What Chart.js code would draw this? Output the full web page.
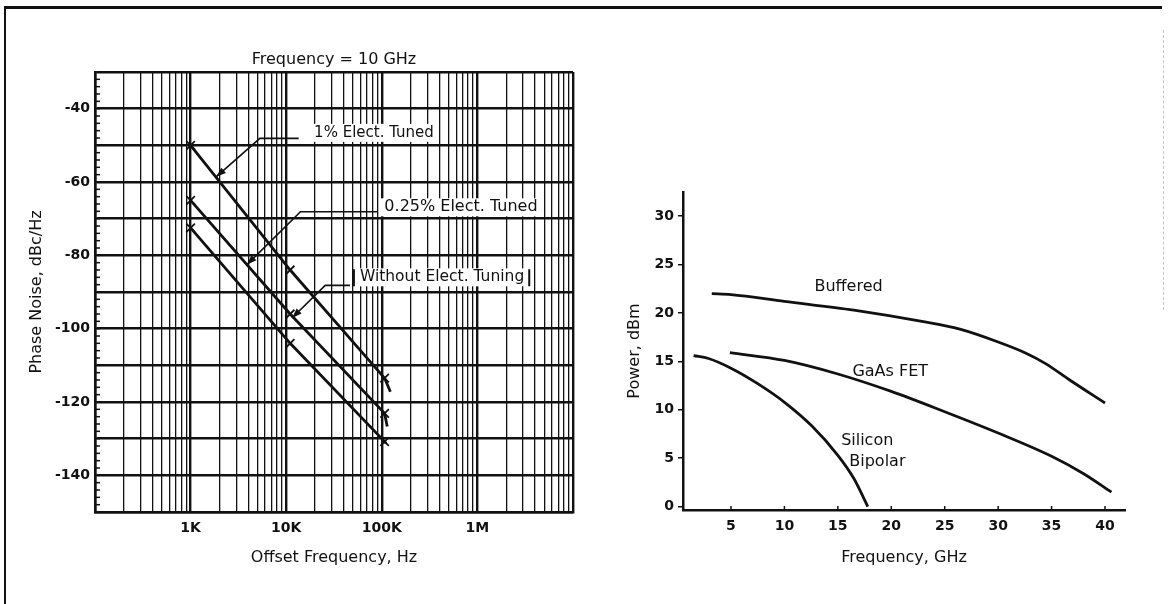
<!DOCTYPE html>
<html>
<head>
<meta charset="utf-8">
<title>Phase noise and output power</title>
<script src="https://cdn.jsdelivr.net/npm/chart.js"></script>
<style>
    body {
        margin: 0;
        background: #fff;
        width: 1168px;
        height: 604px;
        overflow: hidden;
        position: relative;
    }
    .frame {
        position: absolute;
        left: 4px;
        top: 6px;
        width: 1156px;
        height: 598px;
        border-top: 3px solid #111;
        border-left: 2px solid #111;
    }
    .edge {
        position: absolute;
        left: 1163px;
        top: 30px;
        height: 280px;
        border-left: 1px dashed #c4c4c4;
    }
    .box { position: absolute; top: 0; height: 604px; }
    #left-box { left: 0; width: 600px; }
    #right-box { left: 600px; width: 568px; }
</style>
</head>
<body>
<div class="frame"></div>
<div class="edge"></div>
<div class="box" id="left-box"><canvas id="phaseChart"></canvas></div>
<div class="box" id="right-box"><canvas id="powerChart"></canvas></div>

<script>
// ---- left panel: phase noise at 10 GHz ----
const tuned1Freq = [1000, 11000, 107000, 123000];
const tuned1Noise = [-50, -84, -113.5, -117.2];
const tuned025Freq = [1000, 11000, 107000, 114000];
const tuned025Noise = [-65, -96, -123.1, -126.7];
const untunedFreq = [1000, 11000, 107000, 111000];
const untunedNoise = [-72.5, -104, -130.8, -131.3];
const markerCount = 3; // the "x" marks sit on the first three points

const phaseXTickValues = [1e3, 1e4, 1e5, 1e6];
const phaseXTickLabels = ['1K', '10K', '100K', '1M'];
const phaseYTickValues = [-40, -60, -80, -100, -120, -140];
const phaseYTickLabels = ['-40', '-60', '-80', '-100', '-120', '-140'];

const noteTexts = ['1% Elect. Tuned', '0.25% Elect. Tuned', 'Without Elect. Tuning'];
const noteSizes = [15, 16, 15.5];
const noteAt = [[82800, -46.6], [673000, -66.9], [427000, -86.0]];
const noteLeaders = [
    [[13500, -48.1], [5300, -48.1], [1850, -58.6]],
    [[89000, -68.1], [14100, -68.1], [3870, -82.6]],
    [[46500, -88.2], [25600, -88.2], [11500, -97.1]]
];
const boxedNote = 2;

// ---- right panel: output power vs frequency ----
const bufferedGHz = [3.2, 5, 10, 16.5, 23, 26.5, 30, 32.7, 34.4, 36.8, 40];
const bufferedDbm = [22.0, 21.9, 21.2, 20.3, 19.1, 18.3, 17.0, 15.8, 14.8, 13.0, 10.7];
const gaasGHz = [4.9, 10, 15, 20, 25, 30, 35, 38, 40.6];
const gaasDbm = [15.9, 15.1, 13.7, 11.9, 9.8, 7.6, 5.2, 3.4, 1.5];
const siliconGHz = [1.5, 2.9, 5, 7.5, 10.1, 12.6, 15, 16.5, 17.8];
const siliconDbm = [15.6, 15.3, 14.3, 12.7, 10.7, 8.3, 5.3, 2.9, 0];

const powerXTicks = [5, 10, 15, 20, 25, 30, 35, 40];
const powerYTicks = [0, 5, 10, 15, 20, 25, 30];
const curveTexts = ['Buffered', 'GaAs FET', 'Silicon', 'Bipolar'];
const curveTextAt = [[16, 22.75], [19.9, 13.9], [17.75, 6.8], [18.7, 4.65]];

Chart.defaults.font.family = "'DejaVu Sans', sans-serif";
Chart.defaults.color = '#111';
Chart.defaults.animation = false;

const INK = '#111';
const tickFont = { size: 14, weight: 'bold' };
const titleFont = { size: 16 };

function pts(xs, ys) {
    return xs.map((x, i) => ({ x: x, y: ys[i] }));
}

function isDecade(v) {
    const e = Math.log10(v);
    return Math.abs(e - Math.round(e)) < 1e-9;
}

function arrowHead(ctx, from, to, len, half) {
    const a = Math.atan2(to.y - from.y, to.x - from.x);
    const bx = to.x - len * Math.cos(a), by = to.y - len * Math.sin(a);
    ctx.beginPath();
    ctx.moveTo(to.x, to.y);
    ctx.lineTo(bx + half * Math.sin(a), by - half * Math.cos(a));
    ctx.lineTo(bx - half * Math.sin(a), by + half * Math.cos(a));
    ctx.closePath();
    ctx.fill();
}

// title, minor ticks on the left edge and the leader notes
const phaseExtras = {
    id: 'phaseExtras',
    afterDatasetsDraw(chart) {
        const { ctx, chartArea: a, scales: { x, y } } = chart;
        ctx.save();
        ctx.strokeStyle = INK;
        ctx.fillStyle = INK;

        ctx.lineWidth = 1.5;
        for (let v = -150; v <= -30; v += 2) {
            const py = y.getPixelForValue(v);
            ctx.beginPath();
            ctx.moveTo(a.left, py);
            ctx.lineTo(a.left + 5, py);
            ctx.stroke();
        }

        ctx.font = "16px 'DejaVu Sans'";
        ctx.textAlign = 'center';
        ctx.textBaseline = 'middle';
        ctx.fillText('Frequency = 10 GHz', (a.left + a.right) / 2, a.top - 12);

        noteTexts.forEach((txt, i) => {
            const cx = x.getPixelForValue(noteAt[i][0]);
            const cy = y.getPixelForValue(noteAt[i][1]);
            ctx.font = noteSizes[i] + "px 'DejaVu Sans'";
            const w = ctx.measureText(txt).width;
            ctx.fillStyle = '#fff';
            ctx.fillRect(cx - w / 2 - 4, cy - 9, w + 8, 18);

            const p = noteLeaders[i].map(q => ({ x: x.getPixelForValue(q[0]), y: y.getPixelForValue(q[1]) }));
            ctx.fillStyle = INK;
            ctx.lineWidth = 1.6;
            ctx.beginPath();
            ctx.moveTo(p[0].x, p[0].y);
            for (let k = 1; k < p.length; k++) ctx.lineTo(p[k].x, p[k].y);
            ctx.stroke();
            arrowHead(ctx, p[p.length - 2], p[p.length - 1], 10, 3.5);

            if (i === boxedNote) {
                ctx.lineWidth = 2;
                ctx.beginPath();
                ctx.moveTo(cx - w / 2 - 6, cy - 8);
                ctx.lineTo(cx - w / 2 - 6, cy + 9);
                ctx.moveTo(cx + w / 2 + 5, cy - 8);
                ctx.lineTo(cx + w / 2 + 5, cy + 9);
                ctx.stroke();
            }
            ctx.fillText(txt, cx, cy);
        });
        ctx.restore();
    }
};

new Chart(document.getElementById('phaseChart'), {
    type: 'line',
    data: {
        datasets: [
            { label: '1% Elect. Tuned', data: pts(tuned1Freq, tuned1Noise) },
            { label: '0.25% Elect. Tuned', data: pts(tuned025Freq, tuned025Noise) },
            { label: 'Without Elect. Tuning', data: pts(untunedFreq, untunedNoise) }
        ].map(d => Object.assign(d, {
            borderColor: INK,
            borderWidth: 2.8,
            pointStyle: 'crossRot',
            pointRadius: c => c.dataIndex < markerCount ? 6 : 0,
            pointBorderColor: INK,
            pointBorderWidth: 1.8,
            tension: 0
        }))
    },
    options: {
        responsive: true,
        maintainAspectRatio: false,
        layout: { padding: { left: 0, right: 27, top: 72, bottom: 0 } },
        plugins: { legend: { display: false }, tooltip: { enabled: false } },
        scales: {
            x: {
                type: 'logarithmic',
                min: 100,
                max: 1e7,
                afterBuildTicks: scale => {
                    const t = [];
                    for (let d = 100; d < 1e7; d *= 10) {
                        for (let m = 1; m < 10; m++) t.push({ value: d * m });
                    }
                    t.push({ value: 1e7 });
                    scale.ticks = t;
                },
                afterFit: scale => { scale.height = 92; },
                grid: {
                    color: INK,
                    drawTicks: false,
                    lineWidth: c => isDecade(c.tick.value) ? 2.4 : 1.3
                },
                border: { color: INK, width: 2.5 },
                ticks: {
                    autoSkip: false,
                    maxRotation: 0,
                    padding: 8,
                    font: tickFont,
                    color: INK,
                    callback: v => {
                        const i = phaseXTickValues.indexOf(v);
                        return i >= 0 ? phaseXTickLabels[i] : '';
                    }
                },
                title: {
                    display: true,
                    text: 'Offset Frequency, Hz',
                    font: titleFont,
                    color: INK,
                    padding: { top: 0, bottom: 37 }
                }
            },
            y: {
                type: 'linear',
                min: -150,
                max: -30,
                afterBuildTicks: scale => {
                    const t = [];
                    for (let v = -150; v <= -30; v += 10) t.push({ value: v });
                    scale.ticks = t;
                },
                afterFit: scale => { scale.width = 95; },
                grid: { color: INK, drawTicks: false, lineWidth: 2.4 },
                border: { color: INK, width: 2.5 },
                ticks: {
                    padding: 5,
                    font: tickFont,
                    color: INK,
                    callback: v => {
                        const i = phaseYTickValues.indexOf(v);
                        return i >= 0 ? phaseYTickLabels[i] : '';
                    }
                },
                title: {
                    display: true,
                    text: 'Phase Noise, dBc/Hz',
                    font: titleFont,
                    color: INK,
                    padding: { top: 27, bottom: 0 }
                }
            }
        }
    },
    plugins: [phaseExtras]
});

// inward ticks on the frequency axis and the curve names
const powerExtras = {
    id: 'powerExtras',
    afterDatasetsDraw(chart) {
        const { ctx, chartArea: a, scales: { x, y } } = chart;
        ctx.save();
        ctx.strokeStyle = INK;
        ctx.fillStyle = INK;
        ctx.lineWidth = 1.5;
        powerXTicks.forEach(v => {
            const px = x.getPixelForValue(v);
            ctx.beginPath();
            ctx.moveTo(px, a.bottom);
            ctx.lineTo(px, a.bottom - 4);
            ctx.stroke();
        });
        ctx.font = "16px 'DejaVu Sans'";
        ctx.textAlign = 'center';
        ctx.textBaseline = 'middle';
        curveTexts.forEach((txt, i) => {
            ctx.fillText(txt, x.getPixelForValue(curveTextAt[i][0]), y.getPixelForValue(curveTextAt[i][1]));
        });
        ctx.restore();
    }
};

new Chart(document.getElementById('powerChart'), {
    type: 'line',
    data: {
        datasets: [
            { label: 'Buffered', data: pts(bufferedGHz, bufferedDbm) },
            { label: 'GaAs FET', data: pts(gaasGHz, gaasDbm) },
            { label: 'Silicon Bipolar', data: pts(siliconGHz, siliconDbm) }
        ].map(d => Object.assign(d, {
            borderColor: INK,
            borderWidth: 2.8,
            pointRadius: 0,
            cubicInterpolationMode: 'monotone'
        }))
    },
    options: {
        responsive: true,
        maintainAspectRatio: false,
        layout: { padding: { left: 0, right: 43, top: 192, bottom: 0 } },
        plugins: { legend: { display: false }, tooltip: { enabled: false } },
        scales: {
            x: {
                type: 'linear',
                min: 0.51,
                max: 41.87,
                afterBuildTicks: scale => { scale.ticks = powerXTicks.map(v => ({ value: v })); },
                afterFit: scale => { scale.height = 94; },
                grid: { display: true, drawOnChartArea: false, drawTicks: false },
                border: { color: INK, width: 2.5 },
                ticks: { padding: 8, font: tickFont, color: INK, maxRotation: 0 },
                title: {
                    display: true,
                    text: 'Frequency, GHz',
                    font: titleFont,
                    color: INK,
                    padding: { top: 0, bottom: 37 }
                }
            },
            y: {
                type: 'linear',
                min: -0.35,
                max: 32.5,
                afterBuildTicks: scale => { scale.ticks = powerYTicks.map(v => ({ value: v })); },
                afterFit: scale => { scale.width = 83; },
                grid: { drawOnChartArea: false, color: INK, tickLength: 5, lineWidth: 1.5 },
                border: { color: INK, width: 2.5 },
                ticks: { padding: 4, font: tickFont, color: INK },
                title: {
                    display: true,
                    text: 'Power, dBm',
                    font: titleFont,
                    color: INK,
                    padding: { top: 25, bottom: 0 }
                }
            }
        }
    },
    plugins: [powerExtras]
});
</script>
</body>
</html>
